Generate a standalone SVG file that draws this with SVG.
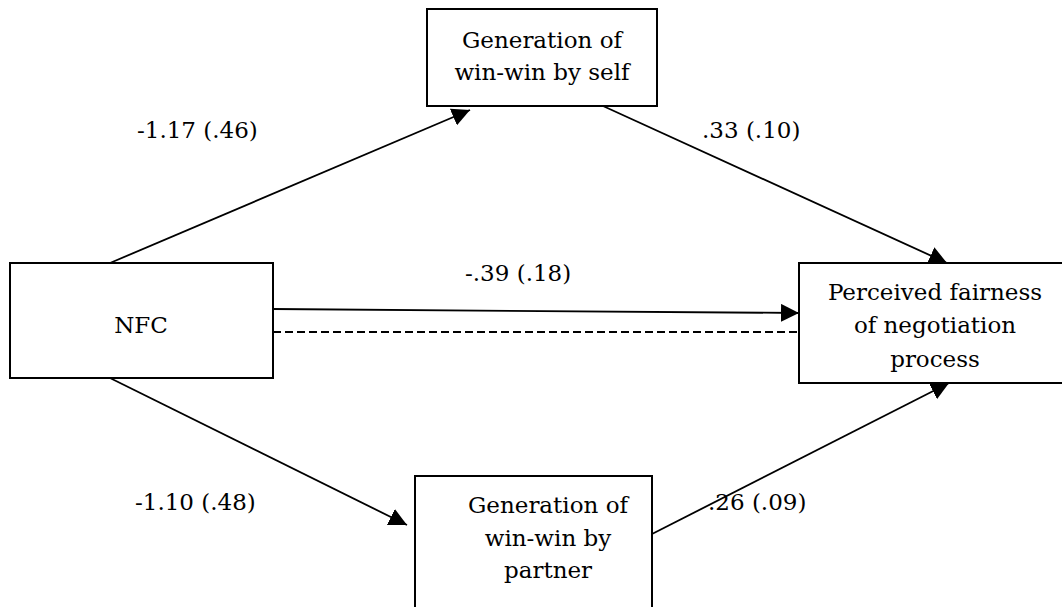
<svg xmlns="http://www.w3.org/2000/svg" width="1062" height="607" viewBox="0 0 1062 607">
<style>
.box{fill:#fff;stroke:#000;stroke-width:2}
text{font-family:"DejaVu Serif",serif;font-size:23px;fill:#000}
.c{text-anchor:middle}
.ln{stroke:#000;stroke-width:1.8;fill:none}
.dash{stroke-dasharray:8,4}
</style>
<defs>
<marker id="ah" markerUnits="userSpaceOnUse" markerWidth="18" markerHeight="18" refX="16" refY="8" orient="auto" viewBox="0 0 16 16">
<path d="M0,0 L16,8 L0,16 z" fill="#000"/>
</marker>
</defs>
<rect width="1062" height="607" fill="#fff"/>
<g id="connectors">
<line class="ln" x1="110" y1="263" x2="470" y2="110" marker-end="url(#ah)"/>
<line class="ln" x1="603" y1="106" x2="947" y2="263" marker-end="url(#ah)"/>
<line class="ln" x1="273" y1="309" x2="799" y2="313" marker-end="url(#ah)"/>
<line class="ln dash" x1="273" y1="332" x2="799" y2="332"/>
<line class="ln" x1="110" y1="378" x2="407" y2="525" marker-end="url(#ah)"/>
<line class="ln" x1="652" y1="534" x2="949" y2="383" marker-end="url(#ah)"/>
</g>
<g id="node-self">
<rect class="box" x="427" y="9" width="230" height="97"/>
<text class="c" x="542" y="48">Generation of</text>
<text class="c" x="542" y="80">win-win by self</text>
</g>
<g id="node-nfc">
<rect class="box" x="10" y="263" width="263" height="115"/>
<text class="c" x="141" y="333">NFC</text>
</g>
<g id="node-fair">
<rect class="box" x="799" y="263" width="275" height="120"/>
<text class="c" x="935" y="300">Perceived fairness</text>
<text class="c" x="935" y="333">of negotiation</text>
<text class="c" x="935" y="367">process</text>
</g>
<g id="node-partner">
<rect class="box" x="415" y="476" width="237" height="140"/>
<text class="c" x="548" y="513">Generation of</text>
<text class="c" x="548" y="546">win-win by</text>
<text class="c" x="548" y="578">partner</text>
</g>
<g id="labels">
<text x="137" y="138">-1.17 (.46)</text>
<text x="702" y="138">.33 (.10)</text>
<text x="465" y="281">-.39 (.18)</text>
<text x="135" y="510">-1.10 (.48)</text>
<text x="708" y="510">.26 (.09)</text>
</g>
</svg>
